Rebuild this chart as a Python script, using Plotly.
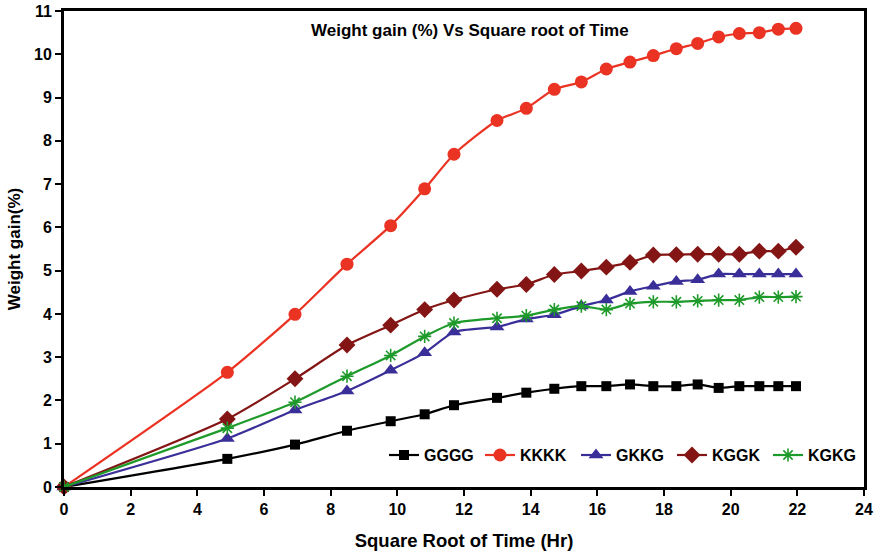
import plotly.graph_objects as go

sqrt_time = [0, 4.9, 6.93, 8.49, 9.8, 10.82, 11.7, 12.99, 13.87, 14.71, 15.52, 16.27,
             16.98, 17.68, 18.37, 19.01, 19.64, 20.26, 20.86, 21.43, 21.96]

gggg = [0, 0.65, 0.98, 1.30, 1.52, 1.68, 1.89, 2.06, 2.18, 2.27, 2.33, 2.33,
        2.37, 2.33, 2.33, 2.37, 2.29, 2.33, 2.33, 2.33, 2.33]
kkkk = [0, 2.65, 3.99, 5.15, 6.04, 6.89, 7.69, 8.47, 8.75, 9.19, 9.36, 9.66,
        9.82, 9.97, 10.13, 10.25, 10.40, 10.48, 10.50, 10.58, 10.60]
gkkg = [0, 1.12, 1.78, 2.22, 2.70, 3.10, 3.58, 3.70, 3.88, 3.98, 4.18, 4.32,
        4.52, 4.64, 4.75, 4.79, 4.92, 4.92, 4.92, 4.92, 4.92]
kggk = [0, 1.57, 2.50, 3.28, 3.74, 4.10, 4.32, 4.57, 4.68, 4.91, 4.99, 5.08,
        5.19, 5.36, 5.37, 5.38, 5.38, 5.38, 5.45, 5.45, 5.54]
kgkg = [0, 1.36, 1.96, 2.56, 3.04, 3.48, 3.79, 3.90, 3.96, 4.10, 4.18, 4.10,
        4.24, 4.28, 4.28, 4.30, 4.32, 4.32, 4.39, 4.39, 4.40]

series = [
    ("GGGG", gggg, "#000000", "square", 10),
    ("KKKK", kkkk, "#ea3323", "circle", 13),
    ("GKKG", gkkg, "#3a2f98", "triangle-up", 13),
    ("KGGK", kggk, "#841515", "diamond", 13),
    ("KGKG", kgkg, "#1e9a2a", "asterisk-open", 11),
]

FONT = "Liberation Sans, Arial, sans-serif"

fig = go.Figure()
for name, ys, col, sym, sz in series:
    marker = dict(symbol=sym, size=sz, color=col)
    if sym == "asterisk-open":
        marker["line"] = dict(color=col, width=1.6)
    fig.add_trace(go.Scatter(
        x=sqrt_time, y=ys, name=name, mode="lines+markers",
        line=dict(color=col, width=2.2, shape="spline", smoothing=0.6),
        marker=marker, cliponaxis=False,
    ))

fig.update_layout(
    width=879, height=556,
    margin=dict(l=64, r=15, t=11, b=69),
    paper_bgcolor="white", plot_bgcolor="white",
    font=dict(family=FONT, size=14, color="black"),
    showlegend=True,
    legend=dict(orientation="h", x=1.0, xanchor="right", y=0.067, yanchor="middle",
                font=dict(family=FONT, size=16, color="black", weight="bold"),
                bgcolor="rgba(0,0,0,0)", tracegroupgap=0, itemwidth=30,
                entrywidth=51, entrywidthmode="pixels"),
    annotations=[dict(text="<b>Weight gain (%) Vs Square root of Time</b>",
                      x=0.508, y=0.96, xref="paper", yref="paper", showarrow=False,
                      xanchor="center", yanchor="middle",
                      font=dict(family=FONT, size=17, color="black"))],
)

fig.update_xaxes(
    range=[0, 24], dtick=2, tick0=0, showgrid=False, zeroline=False, automargin=False,
    showline=True, linecolor="black", linewidth=3, mirror=True,
    ticks="outside", ticklen=6, tickwidth=1.5, tickcolor="black",
    tickfont=dict(family=FONT, size=16, color="black", weight="bold"),
    title=dict(text="<b>Square Root of Time (Hr)</b>", standoff=17,
               font=dict(family=FONT, size=18.5, color="black")),
)
fig.update_yaxes(
    range=[0, 11], dtick=1, tick0=0, showgrid=False, zeroline=False, automargin=False,
    showline=True, linecolor="black", linewidth=3, mirror=True,
    ticks="outside", ticklen=6, tickwidth=1.5, tickcolor="black",
    tickfont=dict(family=FONT, size=16, color="black", weight="bold"),
    title=dict(text="<b>Weight gain(%)</b>", standoff=10,
               font=dict(family=FONT, size=17, color="black")),
)

fig.write_html("out.html", config={"displayModeBar": False},
               post_script="document.body.style.margin='0';document.body.style.padding='0';")
